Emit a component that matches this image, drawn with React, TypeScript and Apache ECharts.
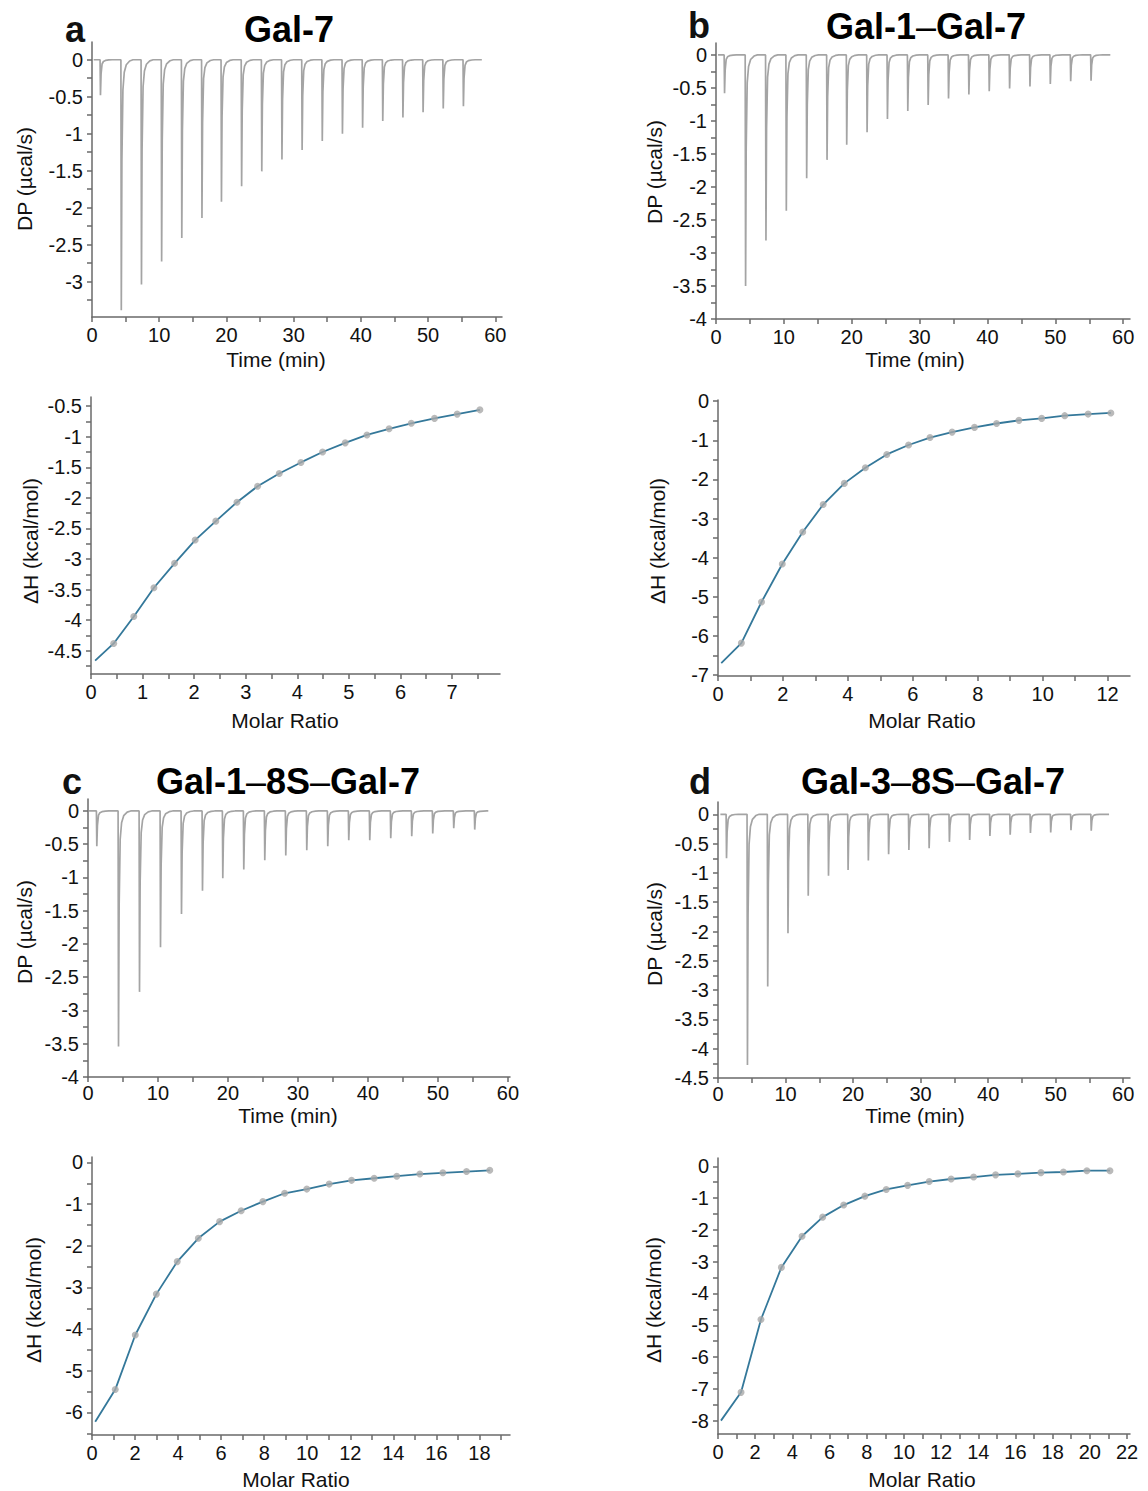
import React, { useEffect, useRef } from "react";
import * as echarts from "echarts";

// ---------- DATA ----------
const injectionTimes = [1.2, 4.3, 7.3, 10.3, 13.3, 16.3, 19.2, 22.2, 25.2, 28.2, 31.2, 34.2, 37.2, 40.2, 43.2, 46.2, 49.2, 52.2, 55.2];

const dpPeaksA = [-0.48, -3.39, -3.04, -2.73, -2.41, -2.14, -1.92, -1.71, -1.51, -1.35, -1.22, -1.1, -1.0, -0.92, -0.83, -0.78, -0.71, -0.66, -0.63];
const dpPeaksB = [-0.58, -3.5, -2.81, -2.36, -1.87, -1.59, -1.36, -1.17, -0.97, -0.85, -0.76, -0.66, -0.6, -0.55, -0.51, -0.48, -0.44, -0.4, -0.39];
const dpPeaksC = [-0.53, -3.54, -2.72, -2.05, -1.55, -1.2, -1.01, -0.88, -0.74, -0.67, -0.59, -0.53, -0.44, -0.44, -0.41, -0.38, -0.34, -0.26, -0.28];
const dpPeaksD = [-0.75, -4.28, -2.94, -2.03, -1.39, -1.05, -0.95, -0.79, -0.68, -0.61, -0.58, -0.47, -0.44, -0.37, -0.35, -0.32, -0.31, -0.27, -0.28];

const traceSpanA = [0.25, 58.0];
const traceSpanB = [0.3, 58.1];
const traceSpanC = [0.15, 57.2];
const traceSpanD = [0.35, 57.9];

const molarA = [0.44, 0.83, 1.22, 1.62, 2.02, 2.42, 2.83, 3.23, 3.65, 4.07, 4.49, 4.93, 5.35, 5.78, 6.21, 6.66, 7.1, 7.54];
const dhA = [-4.38, -3.94, -3.47, -3.07, -2.69, -2.38, -2.07, -1.81, -1.6, -1.42, -1.25, -1.1, -0.97, -0.87, -0.78, -0.7, -0.63, -0.56];
const fitStartA = [0.08, -4.66];

const molarB = [0.72, 1.34, 1.98, 2.61, 3.24, 3.89, 4.54, 5.2, 5.87, 6.53, 7.21, 7.9, 8.58, 9.27, 9.97, 10.68, 11.4, 12.1];
const dhB = [-6.18, -5.13, -4.16, -3.34, -2.64, -2.1, -1.7, -1.36, -1.12, -0.93, -0.79, -0.67, -0.57, -0.49, -0.44, -0.37, -0.33, -0.3];
const fitStartB = [0.1, -6.69];

const molarC = [1.08, 2.01, 2.99, 3.96, 4.94, 5.93, 6.93, 7.94, 8.95, 9.98, 11.02, 12.06, 13.11, 14.16, 15.23, 16.3, 17.4, 18.48];
const dhC = [-5.45, -4.14, -3.16, -2.38, -1.82, -1.42, -1.16, -0.94, -0.74, -0.64, -0.52, -0.43, -0.38, -0.33, -0.28, -0.25, -0.22, -0.19];
const fitStartC = [0.15, -6.22];

const molarD = [1.24, 2.31, 3.41, 4.52, 5.63, 6.76, 7.9, 9.05, 10.2, 11.36, 12.54, 13.75, 14.93, 16.13, 17.37, 18.58, 19.84, 21.08];
const dhD = [-7.11, -4.82, -3.18, -2.2, -1.6, -1.22, -0.94, -0.73, -0.6, -0.48, -0.4, -0.34, -0.27, -0.24, -0.2, -0.18, -0.14, -0.14];
const fitStartD = [0.16, -8.0];

// tick helpers
const range = (a: number, b: number, s: number) => {
  const out: number[] = [];
  const n = Math.round((b - a) / s);
  for (let i = 0; i <= n; i++) out.push(+(a + i * s).toFixed(4));
  return out;
};

const timeLabels = range(0, 60, 10);
const timeTicks = range(0, 60, 5);
const dpLabelsA = range(-3, 0, 0.5);
const dpTicksA = range(-3.25, 0, 0.25);
const dpLabels4 = range(-4, 0, 0.5);
const dpTicks4 = range(-4, 0, 0.25);
const dpLabelsD = range(-4.5, 0, 0.5);
const dpTicksD = range(-4.5, 0, 0.25);

const mrLabelsA = range(0, 7, 1);
const mrTicksA = range(0, 7.5, 0.5);
const dhLabelsA = range(-4.5, -0.5, 0.5);
const dhTicksA = range(-4.75, -0.5, 0.25);

const mrLabelsB = range(0, 12, 2);
const mrTicksB = range(0, 12, 1);
const dhLabelsB = range(-7, 0, 1);
const dhTicksB = range(-7, 0, 0.5);

const mrLabelsC = range(0, 18, 2);
const mrTicksC = range(0, 19, 1);
const dhLabelsC = range(-6, 0, 1);
const dhTicksC = range(-6.5, 0, 0.5);

const mrLabelsD = range(0, 22, 2);
const mrTicksD = range(0, 22, 1);
const dhLabelsD = range(-8, 0, 1);
const dhTicksD = range(-8, 0, 0.5);

// ---------- STYLE ----------
const FONT = "'Liberation Sans', Arial, Helvetica, sans-serif";
const AXIS_COLOR = "#6a6a6a";
const TRACE_COLOR = "#a4a4a4";
const FIT_COLOR = "#34789a";
const POINT_COLOR = "#a9a9a9";

function buildTrace(span: number[], times: number[], peaks: number[]) {
  const pts: number[][] = [[span[0], 0]];
  times.forEach((t, i) => {
    const d = peaks[i];
    pts.push(
      [t, 0],
      [t + 0.06, d],
      [t + 0.15, d * 0.4],
      [t + 0.3, d * 0.12],
      [t + 0.5, d * 0.05],
      [t + 0.8, d * 0.02],
      [t + 1.3, d * 0.005],
      [t + 1.8, 0]
    );
  });
  pts.push([span[1], 0]);
  return pts;
}

function valAxis(
  gridIndex: number,
  min: number,
  max: number,
  labels: number[],
  ticks: number[],
  fontSize: number,
  margin = 9
) {
  return {
    type: "value",
    gridIndex,
    min,
    max,
    splitLine: { show: false },
    axisLine: { show: true, onZero: false, lineStyle: { color: AXIS_COLOR, width: 1.5 } },
    axisTick: { show: true, inside: false, length: 5, customValues: ticks, lineStyle: { color: AXIS_COLOR, width: 1.5 } },
    axisLabel: { show: true, customValues: labels, fontSize, color: "#111", fontFamily: FONT, margin },
  };
}

function txt(x: number, y: number, text: string, fontSize: number, rotate = false, bold = false) {
  return {
    type: "text",
    x,
    y,
    rotation: rotate ? Math.PI / 2 : 0,
    style: {
      text,
      fontSize,
      fontFamily: FONT,
      fontWeight: bold ? "bold" : "normal",
      fill: "#111",
      textAlign: "center",
      textVerticalAlign: "middle",
      align: "center",
      verticalAlign: "middle",
    },
  };
}

function titleTxt(x: number, y: number, parts: string[]) {
  const text = parts.map((p, i) => (i % 2 === 0 ? `{b|${p}}` : `{n|${p}}`)).join("");
  return {
    type: "text",
    x,
    y,
    style: {
      text,
      fill: "#000",
      textAlign: "center",
      textVerticalAlign: "middle",
      align: "center",
      verticalAlign: "middle",
      rich: {
        b: { fontSize: 36, fontWeight: "bold", fontFamily: FONT, fill: "#000", color: "#000" },
        n: { fontSize: 36, fontWeight: "normal", fontFamily: FONT, fill: "#000", color: "#000" },
      },
    },
  };
}

export default function App() {
  const ref = useRef<HTMLDivElement>(null);

  useEffect(() => {
    if (!ref.current) return;
    const chart = echarts.init(ref.current, null, { renderer: "svg" });

    const grids = [
      { left: 92, top: 42, width: 410, height: 275 },
      { left: 91, top: 397, width: 409, height: 277 },
      { left: 716, top: 43, width: 414, height: 276 },
      { left: 718, top: 400, width: 412, height: 276 },
      { left: 88, top: 799, width: 422, height: 278 },
      { left: 92, top: 1157, width: 418, height: 278 },
      { left: 718, top: 802, width: 412, height: 276 },
      { left: 718, top: 1158, width: 412, height: 276 },
    ].map((g) => ({ ...g, containLabel: false, outerBoundsMode: "none" }));

    const xAxes = [
      valAxis(0, 0, 61.0, timeLabels, timeTicks, 20, 8),
      valAxis(1, 0, 7.93, mrLabelsA, mrTicksA, 20, 8),
      valAxis(2, 0, 61.0, timeLabels, timeTicks, 20, 8),
      valAxis(3, 0, 12.69, mrLabelsB, mrTicksB, 20, 8),
      valAxis(4, 0, 60.3, timeLabels, timeTicks, 20, 6),
      valAxis(5, 0, 19.42, mrLabelsC, mrTicksC, 20, 8),
      valAxis(6, 0, 61.0, timeLabels, timeTicks, 20, 6),
      valAxis(7, 0, 22.16, mrLabelsD, mrTicksD, 20, 8),
    ];
    const yAxes = [
      valAxis(0, -3.48, 0.24, dpLabelsA, dpTicksA, 20),
      valAxis(1, -4.88, -0.35, dhLabelsA, dhTicksA, 20),
      valAxis(2, -4, 0.18, dpLabels4, dpTicks4, 20),
      valAxis(3, -7.02, 0.03, dhLabelsB, dhTicksB, 20),
      valAxis(4, -4, 0.18, dpLabels4, dpTicks4, 20),
      valAxis(5, -6.54, 0.13, dhLabelsC, dhTicksC, 20),
      valAxis(6, -4.5, 0.21, dpLabelsD, dpTicksD, 20),
      valAxis(7, -8.42, 0.26, dhLabelsD, dhTicksD, 20),
    ];

    const traceSeries = (idx: number, span: number[], peaks: number[]) => ({
      type: "line",
      xAxisIndex: idx,
      yAxisIndex: idx,
      data: buildTrace(span, injectionTimes, peaks),
      showSymbol: false,
      symbol: "none",
      lineStyle: { color: TRACE_COLOR, width: 1.7 },
      silent: true,
    });

    const fitSeries = (idx: number, start: number[], xs: number[], ys: number[]) => ({
      type: "line",
      xAxisIndex: idx,
      yAxisIndex: idx,
      data: [start, ...xs.map((x, i) => [x, ys[i]])],
      showSymbol: false,
      symbol: "none",
      lineStyle: { color: FIT_COLOR, width: 1.8 },
      z: 2,
      silent: true,
    });

    const pointSeries = (idx: number, xs: number[], ys: number[]) => ({
      type: "scatter",
      xAxisIndex: idx,
      yAxisIndex: idx,
      data: xs.map((x, i) => [x, ys[i]]),
      symbol: "circle",
      symbolSize: 7,
      itemStyle: { color: POINT_COLOR },
      z: 3,
      silent: true,
    });

    const series = [
      traceSeries(0, traceSpanA, dpPeaksA),
      fitSeries(1, fitStartA, molarA, dhA),
      pointSeries(1, molarA, dhA),
      traceSeries(2, traceSpanB, dpPeaksB),
      fitSeries(3, fitStartB, molarB, dhB),
      pointSeries(3, molarB, dhB),
      traceSeries(4, traceSpanC, dpPeaksC),
      fitSeries(5, fitStartC, molarC, dhC),
      pointSeries(5, molarC, dhC),
      traceSeries(6, traceSpanD, dpPeaksD),
      fitSeries(7, fitStartD, molarD, dhD),
      pointSeries(7, molarD, dhD),
    ];

    const graphics = [
      // panel letters
      txt(75, 29, "a", 36, false, true),
      txt(699, 25, "b", 36, false, true),
      txt(72, 781, "c", 36, false, true),
      txt(700, 781, "d", 36, false, true),
      // titles
      titleTxt(289, 29, ["Gal-7"]),
      titleTxt(926, 26, ["Gal-1", "–", "Gal-7"]),
      titleTxt(288, 781, ["Gal-1", "–", "8S", "–", "Gal-7"]),
      titleTxt(933, 781, ["Gal-3", "–", "8S", "–", "Gal-7"]),
      // axis titles
      txt(276, 359, "Time (min)", 21),
      txt(24, 179, "DP (µcal/s)", 21, true),
      txt(285, 720, "Molar Ratio", 21),
      txt(30, 541, "ΔH (kcal/mol)", 21, true),
      txt(915, 359, "Time (min)", 21),
      txt(654, 172, "DP (µcal/s)", 21, true),
      txt(922, 720, "Molar Ratio", 21),
      txt(657, 541, "ΔH (kcal/mol)", 21, true),
      txt(288, 1115, "Time (min)", 21),
      txt(24, 932, "DP (µcal/s)", 21, true),
      txt(296, 1479, "Molar Ratio", 21),
      txt(33, 1300, "ΔH (kcal/mol)", 21, true),
      txt(915, 1115, "Time (min)", 21),
      txt(654, 934, "DP (µcal/s)", 21, true),
      txt(922, 1479, "Molar Ratio", 21),
      txt(653, 1300, "ΔH (kcal/mol)", 21, true),
    ];

    chart.setOption({
      animation: false,
      backgroundColor: "#ffffff",
      textStyle: { fontFamily: FONT },
      grid: grids,
      xAxis: xAxes,
      yAxis: yAxes,
      series,
      graphic: { elements: graphics },
    });

    return () => chart.dispose();
  }, []);

  return (
    <div
      ref={ref}
      style={{ position: "absolute", left: 0, top: 0, width: 1148, height: 1491, background: "#fff" }}
    />
  );
}
